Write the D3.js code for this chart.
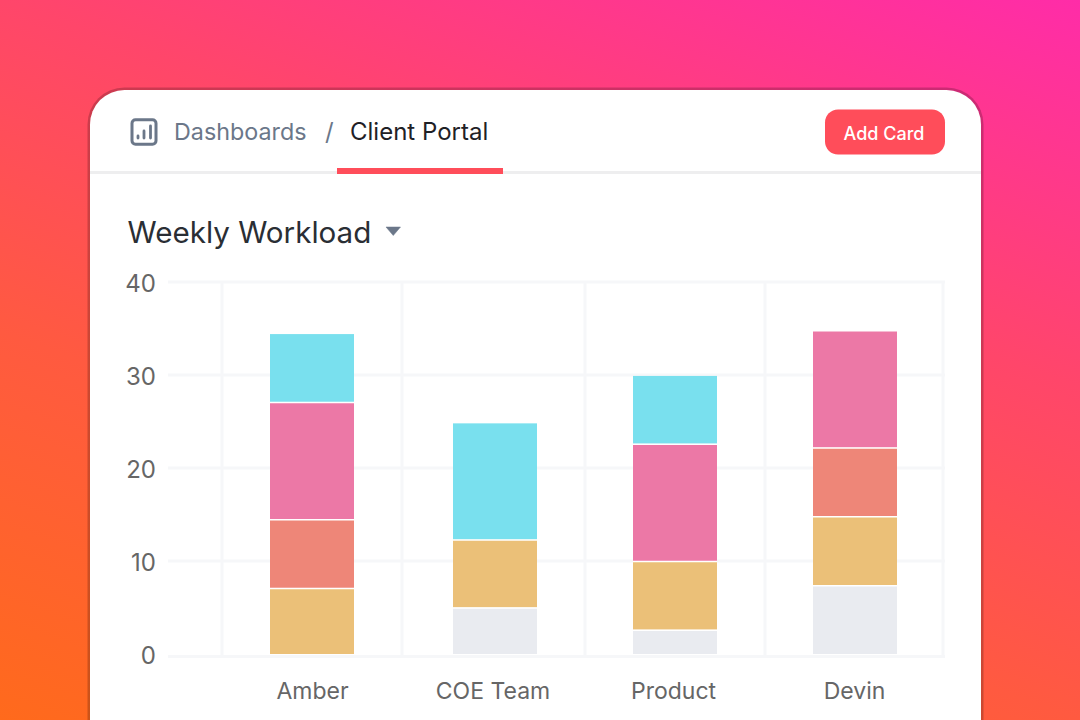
<!DOCTYPE html>
<html>
<head>
<meta charset="utf-8">
<style>
  html, body { margin: 0; padding: 0; overflow: hidden; background: #fff; }
  svg { display: block; }
  text { font-family: Inter, "Noto Sans", sans-serif; }
</style>
</head>
<body>
<script src="https://cdn.jsdelivr.net/npm/d3@7"></script>
<script>
// chart data
const people = ['Amber', 'COE Team', 'Product', 'Devin'];
const seriesNames = ['grey', 'yellow', 'red', 'pink', 'cyan'];
const grey = [0, 5, 2.6, 7.4];
const yellow = [7.1, 7.3, 7.4, 7.4];
const red = [7.4, 0, 0, 7.4];
const pink = [12.6, 0, 12.6, 12.6];
const cyan = [7.3, 12.5, 7.3, 0];
const yTicks = [0, 10, 20, 30, 40];
const seriesColors = ['#e9ebf0', '#ebc078', '#ee8678', '#ec78a6', '#79e0ee'];

const width = 1080, height = 720;

const svg = d3.select('body').append('svg')
    .attr('width', width)
    .attr('height', height);

// page background
const grad = svg.append('defs').append('linearGradient')
    .attr('id', 'bg')
    .attr('gradientUnits', 'userSpaceOnUse')
    .attr('x1', 1080).attr('y1', 0)
    .attr('x2', 728).attr('y2', 981);
grad.append('stop').attr('offset', '0').attr('stop-color', '#ff2ca8');
grad.append('stop').attr('offset', '0.35').attr('stop-color', '#ff466a');
grad.append('stop').attr('offset', '0.65').attr('stop-color', '#ff5a40');
grad.append('stop').attr('offset', '1').attr('stop-color', '#ff6a1c');

svg.append('rect')
    .attr('width', width).attr('height', height)
    .attr('fill', 'url(#bg)');

// card, with a darker rim behind it
svg.append('rect')
    .attr('x', 87.5).attr('y', 87.5)
    .attr('width', 896).attr('height', 720)
    .attr('rx', 37)
    .attr('fill', '#000')
    .attr('fill-opacity', 0.2);
svg.append('rect')
    .attr('x', 90).attr('y', 90)
    .attr('width', 891).attr('height', 720)
    .attr('rx', 34.5)
    .attr('fill', '#fff');

// header
svg.append('rect')
    .attr('x', 90).attr('y', 171)
    .attr('width', 891).attr('height', 3)
    .attr('fill', '#eeeeef');
svg.append('rect')
    .attr('x', 337).attr('y', 168)
    .attr('width', 166).attr('height', 6)
    .attr('fill', '#ff4d5a');

const icon = svg.append('g').attr('stroke', '#6b7789').attr('fill', 'none');
icon.append('rect')
    .attr('x', 132).attr('y', 119.800)
    .attr('width', 24).attr('height', 24.500)
    .attr('rx', 3.5)
    .attr('stroke-width', 3);
icon.append('path')
    .attr('d', 'M138 138v-2M144 138v-7M150.500 138v-12')
    .attr('stroke-width', 2.8)
    .attr('stroke-linecap', 'round');

svg.append('text').attr('x', 174).attr('y', 140)
    .attr('font-size', 23.300).attr('fill', '#6b7789')
    .text('Dashboards');
svg.append('text').attr('x', 325).attr('y', 140)
    .attr('font-size', 24).attr('fill', '#6b7789')
    .text('/');
svg.append('text').attr('x', 350).attr('y', 140)
    .attr('font-size', 24).attr('fill', '#1f2126')
    .text('Client Portal');

svg.append('rect')
    .attr('x', 825).attr('y', 109.500)
    .attr('width', 120).attr('height', 45)
    .attr('rx', 13)
    .attr('fill', '#ff4d5a');
svg.append('text').attr('x', 884).attr('y', 139.500)
    .attr('text-anchor', 'middle')
    .attr('font-size', 18).attr('font-weight', 500).attr('fill', '#fff')
    .text('Add Card');

svg.append('text').attr('x', 127.500).attr('y', 243)
    .attr('font-size', 29.600).attr('fill', '#2a2e34')
    .text('Weekly Workload');
svg.append('path')
    .attr('d', 'M386 227h14.500l-7.250 8.500z')
    .attr('fill', '#6b7789')
    .attr('stroke', '#6b7789')
    .attr('stroke-width', 0.5)
    .attr('stroke-linejoin', 'round');

// scales
const y = d3.scaleLinear().domain([0, 40]).range([654, 282]);
const barX = d3.scaleOrdinal().domain(people).range([270, 453, 633, 813]);
const labelX = d3.scaleOrdinal().domain(people).range([312.500, 493, 673.500, 854.500]);
const gridX = [222, 402, 585, 765, 943];
const barW = 84;
const baselineDrop = 2.5; // the zero line sits just under the bars

// gridlines
const grid = svg.append('g').attr('stroke', '#f6f7f9').attr('stroke-width', 3);
grid.selectAll('line.h')
    .data(yTicks)
    .join('line')
    .attr('class', 'h')
    .attr('x1', 168).attr('x2', 945)
    .attr('y1', d => y(d) + (d === 0 ? baselineDrop : 0))
    .attr('y2', d => y(d) + (d === 0 ? baselineDrop : 0));
grid.selectAll('line.v')
    .data(gridX)
    .join('line')
    .attr('class', 'v')
    .attr('x1', d => d).attr('x2', d => d)
    .attr('y1', y(40)).attr('y2', y(0) + baselineDrop);

// axes
const yAxis = svg.append('g')
    .attr('transform', 'translate(156,0.5)')
    .call(d3.axisLeft(y).tickValues(yTicks).tickSize(0).tickPadding(0));
yAxis.select('.domain').remove();
yAxis.selectAll('text')
    .attr('font-size', 24).attr('fill', '#666')
    .attr('font-family', 'Inter, sans-serif')
    .attr('dy', '0.36em');

const labels = svg.append('g');
labels.selectAll('text')
    .data(people)
    .join('text')
    .attr('x', d => labelX(d))
    .attr('y', 699)
    .attr('text-anchor', 'middle')
    .attr('font-size', 23).attr('fill', '#666')
    .text(d => d);

// stacked bars
const rows = people.map((name, i) => ({
    name,
    grey: grey[i],
    yellow: yellow[i],
    red: red[i],
    pink: pink[i],
    cyan: cyan[i]
}));
const stacked = d3.stack().keys(seriesNames)(rows);

svg.append('g').selectAll('g')
    .data(stacked)
    .join('g')
    .attr('fill', (d, i) => seriesColors[i])
    .selectAll('rect')
    .data(d => d.filter(p => p[1] > p[0]))
    .join('rect')
    .attr('x', d => barX(d.data.name))
    .attr('width', barW)
    .attr('y', d => y(d[1]))
    .attr('height', d => y(d[0]) - y(d[1]));

// thin white seams between the segments
svg.append('g').selectAll('g')
    .data(stacked.slice(0, -1))
    .join('g')
    .selectAll('line')
    .data(d => d.filter(p => p[1] > p[0]))
    .join('line')
    .attr('x1', d => barX(d.data.name))
    .attr('x2', d => barX(d.data.name) + barW)
    .attr('y1', d => y(d[1]) + 0.5)
    .attr('y2', d => y(d[1]) + 0.5)
    .attr('stroke', '#fff')
    .attr('stroke-width', 1.5);
</script>
</body>
</html>
